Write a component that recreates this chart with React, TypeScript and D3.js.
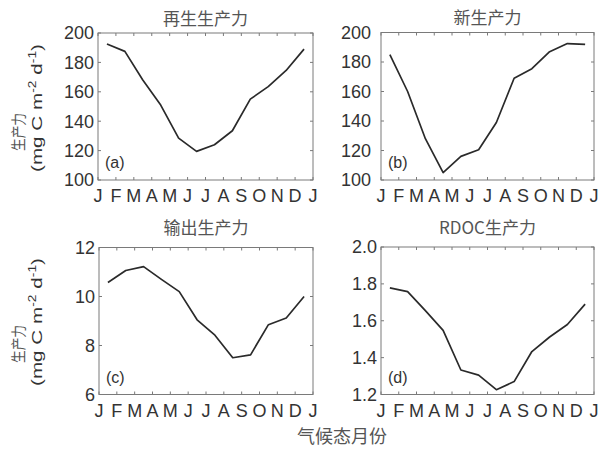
import React from "react";
import * as d3 from "d3";

// month tick labels (boundaries, 13 of them)
const monthLabels = ["J", "F", "M", "A", "M", "J", "J", "A", "S", "O", "N", "D", "J"];

// climatological monthly values, Jan..Dec
const regenerated = [192.5, 187.5, 168, 151, 128.5, 119.5, 124, 133.5, 155, 163.5, 174.5, 189];
const newProd = [185, 160, 128, 105, 116, 120.5, 139, 169, 175.5, 187, 192.5, 192];
const exportProd = [10.57, 11.06, 11.22, 10.7, 10.2, 9.05, 8.42, 7.5, 7.62, 8.85, 9.12, 10.0];
const rdocProd = [1.778, 1.758, 1.655, 1.548, 1.333, 1.305, 1.226, 1.27, 1.433, 1.512, 1.58, 1.69];

const ticksAB = [100, 120, 140, 160, 180, 200];
const ticksC = [6, 8, 10, 12];
const ticksD = [1.2, 1.4, 1.6, 1.8, 2.0];

const latin = "'Liberation Sans', Arial, sans-serif";
const cjk = "'Noto Sans CJK SC', sans-serif";
const boxColor = "#7a7a7a";
const textColor = "#333";

type PanelProps = {
	box: [number, number, number, number]; // x0, y0, x1, y1
	domain: [number, number];
	ticks: number[];
	fmt: (v: number) => string;
	values: number[];
	title: string;
	titleY: number;
	tag: string;
	labelGap: number;
};

function Panel(props: PanelProps) {
	const { box, domain, ticks, fmt, values, title, titleY, tag, labelGap } = props;
	const [x0, y0, x1, y1] = box;
	const x = d3.scaleLinear().domain([0, 12]).range([x0, x1]);
	const y = d3.scaleLinear().domain(domain).range([y1, y0]);
	const line = d3
		.line<number>()
		.x((d, i) => x(i + 0.5))
		.y((d) => y(d));
	const tl = 3;

	return (
		<g>
			<text
				x={(x0 + x1) / 2}
				y={titleY}
				textAnchor="middle"
				fontFamily={cjk}
				fontSize={17}
				fill="#555"
			>
				{title}
			</text>
			<rect x={x0} y={y0} width={x1 - x0} height={y1 - y0} fill="none" stroke={boxColor} strokeWidth={1} />
			{monthLabels.map((m, i) => (
				<g key={"mt" + i}>
					<line x1={x(i)} x2={x(i)} y1={y1} y2={y1 - tl} stroke={boxColor} />
					<line x1={x(i)} x2={x(i)} y1={y0} y2={y0 + tl} stroke={boxColor} />
					<text
						x={x(i)}
						y={y1 + 22}
						textAnchor="middle"
						fontFamily={latin}
						fontSize={18}
						fill={textColor}
					>
						{m}
					</text>
				</g>
			))}
			{ticks.map((t) => (
				<g key={"yt" + t}>
					<line x1={x0} x2={x0 + tl} y1={y(t)} y2={y(t)} stroke={boxColor} />
					<line x1={x1} x2={x1 - tl} y1={y(t)} y2={y(t)} stroke={boxColor} />
					<text
						x={x0 - labelGap}
						y={y(t)}
						dy="0.36em"
						textAnchor="end"
						fontFamily={latin}
						fontSize={18}
						fill={textColor}
					>
						{fmt(t)}
					</text>
				</g>
			))}
			<path d={line(values) || ""} fill="none" stroke="#2a2a2a" strokeWidth={1.7} strokeLinejoin="round" />
			<text x={x0 + 7} y={y1 - 12} fontFamily={latin} fontSize={16} fill={textColor}>
				{tag}
			</text>
		</g>
	);
}

function YTitle(props: { cy1: number; cy2: number }) {
	const { cy1, cy2 } = props;
	return (
		<g>
			<text
				transform={`translate(24,${cy1}) rotate(-90)`}
				textAnchor="middle"
				fontFamily={cjk}
				fontSize={15}
				fill="#555"
				textLength={38}
				lengthAdjust="spacingAndGlyphs"
			>
				生产力
			</text>
			<text
				transform={`translate(42,${cy2}) rotate(-90)`}
				textAnchor="middle"
				fontFamily={latin}
				fontSize={15}
				fill={textColor}
				textLength={128}
				lengthAdjust="spacingAndGlyphs"
			>
				(mg C m
				<tspan fontSize={10} dy={-6}>-2</tspan>
				<tspan dy={6}> d</tspan>
				<tspan fontSize={10} dy={-6}>-1</tspan>
				<tspan dy={6}>)</tspan>
			</text>
		</g>
	);
}

export default function App() {
	const f0 = (v: number) => String(v);
	const f1 = (v: number) => v.toFixed(1);
	return (
		<svg
			width={606}
			height={450}
			style={{ position: "absolute", left: 0, top: 0, background: "#fff" }}
		>
			<rect width={606} height={450} fill="#fff" />
			<Panel
				box={[98, 33, 313, 180]}
				domain={[100, 200]}
				ticks={ticksAB}
				fmt={f0}
				values={regenerated}
				title="再生生产力"
				titleY={25}
				tag="(a)"
				labelGap={4}
			/>
			<Panel
				box={[381, 32.5, 594, 180]}
				domain={[100, 200]}
				ticks={ticksAB}
				fmt={f0}
				values={newProd}
				title="新生产力"
				titleY={24}
				tag="(b)"
				labelGap={10}
			/>
			<Panel
				box={[99, 247.5, 313, 394.5]}
				domain={[6, 12]}
				ticks={ticksC}
				fmt={f0}
				values={exportProd}
				title="输出生产力"
				titleY={234}
				tag="(c)"
				labelGap={4}
			/>
			<Panel
				box={[381, 247, 594, 394.5]}
				domain={[1.2, 2.0]}
				ticks={ticksD}
				fmt={f1}
				values={rdocProd}
				title="RDOC生产力"
				titleY={234}
				tag="(d)"
				labelGap={4}
			/>
			<YTitle cy1={132} cy2={108} />
			<YTitle cy1={344} cy2={322} />
			<text x={342} y={443} textAnchor="middle" fontFamily={cjk} fontSize={18} fill="#555">
				气候态月份
			</text>
		</svg>
	);
}
